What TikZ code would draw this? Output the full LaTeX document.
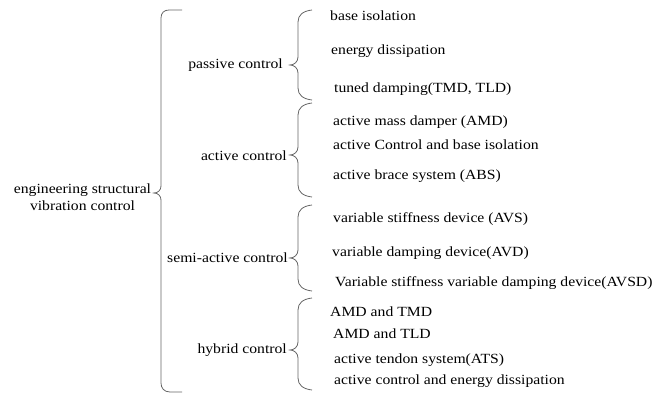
\documentclass[tikz,border=0pt]{standalone}
\usepackage{fontspec}
\setmainfont{Liberation Serif}[FakeStretch=1.12]
\begin{document}
\begin{tikzpicture}[x=1pt,y=-1pt,
  lbl/.style={inner sep=0pt, font=\fontsize{14}{17}\selectfont, text height=9.5pt, text depth=3pt},
  leaf/.style={lbl, anchor=west},
  cat/.style={lbl, anchor=east},
  brace/.style={draw=black!60, line width=0.8pt}]
\useasboundingbox (0,0) rectangle (665,393);
\newcommand\subbrace[4]{%
  \draw[brace] (#1+14,#2) .. controls (#1+5,#2+1) and (#1,#2+5) .. (#1,#2+12)
    -- (#1,#3-8) .. controls (#1,#3-3) and (#1-4,#3) .. (#1-8,#3)
    .. controls (#1-4,#3) and (#1,#3+3) .. (#1,#3+8)
    -- (#1,#4-12) .. controls (#1,#4-5) and (#1+5,#4-1) .. (#1+14,#4);}

% root
\node[inner sep=0pt, align=center, font=\fontsize{14}{17}\selectfont] (root) at (82.5,197) {engineering structural\\vibration control};
\coordinate (rtip) at (154,193);
\draw[brace] (182,10) -- (169,10) .. controls (164,10) and (161,13) .. (161,18)
  -- (161,186) .. controls (161,190) and (158,193) .. (rtip)
  .. controls (158,193) and (161,196) .. (161,200)
  -- (161,383) .. controls (161,388) and (164,392) .. (170,392) -- (182,392);

% categories
\node[cat] (passive) at (283,65) {passive control};
\node[cat] (active) at (287,157) {active control};
\node[cat] (semi) at (288,259) {semi-active control};
\node[cat] (hybrid) at (287,350) {hybrid control};

\subbrace{298}{10}{65}{100}
\subbrace{298}{103}{155}{197}
\subbrace{298}{205}{258}{291}
\subbrace{298}{298}{350}{390}

% leaves
\node[leaf] (l1) at (330,17) {base isolation};
\node[leaf] (l2) at (331,51) {energy dissipation};
\node[leaf] (l3) at (334,89) {tuned damping(TMD, TLD)};
\node[leaf] (l4) at (333,122) {active mass damper (AMD)};
\node[leaf] (l5) at (333,146) {active Control and base isolation};
\node[leaf] (l6) at (333,176) {active brace system (ABS)};
\node[leaf] (l7) at (333,219) {variable stiffness device (AVS)};
\node[leaf] (l8) at (332,253) {variable damping device(AVD)};
\node[leaf] (l9) at (335,283) {Variable stiffness variable damping device(AVSD)};
\node[leaf] (l10) at (330,313) {AMD and TMD};
\node[leaf] (l11) at (333,335) {AMD and TLD};
\node[leaf] (l12) at (334,360) {active tendon system(ATS)};
\node[leaf] (l13) at (334,381) {active control and energy dissipation};
\end{tikzpicture}
\end{document}
